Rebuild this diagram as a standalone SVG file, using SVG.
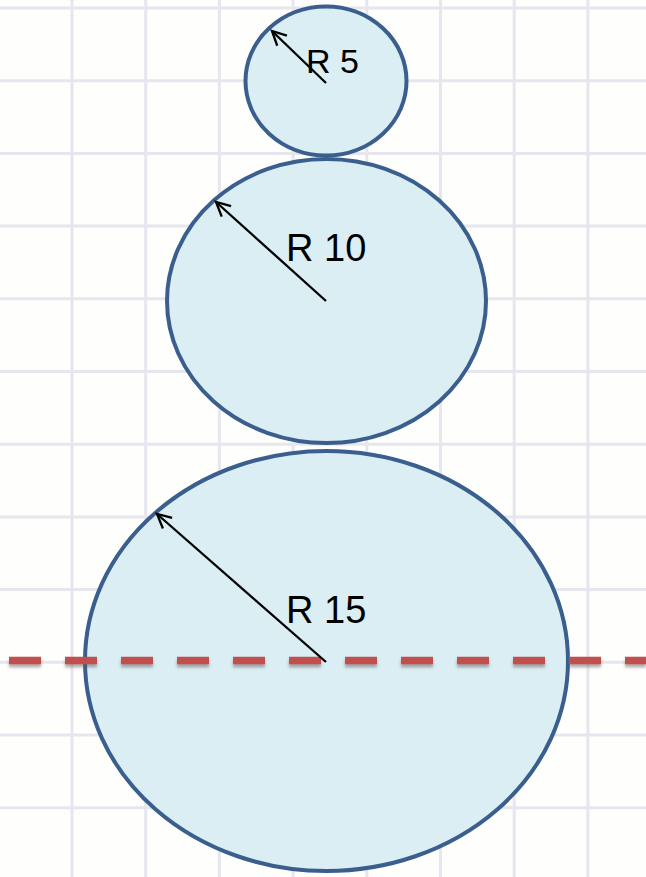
<svg xmlns="http://www.w3.org/2000/svg" width="646" height="877" viewBox="0 0 646 877">
  <defs>
    <style>
      .grid line { stroke: #e6e6ee; stroke-width: 3; }
      .ball { fill: #dbeef4; stroke: #3a5f8e; stroke-width: 4; }
      .radius { stroke: #000; stroke-width: 2.3; fill: none; marker-end: url(#open); }
      .lbl { font-family: "Liberation Sans", Arial, sans-serif; font-size: 38px; fill: #000; }
    </style>
    <marker id="open" viewBox="0 0 20 20" refX="17" refY="10" markerWidth="20" markerHeight="20" markerUnits="userSpaceOnUse" orient="auto">
      <path d="M3,3 L17,10 L3,17" fill="none" stroke="#000" stroke-width="2.3"/>
    </marker>
    <filter id="shadow" filterUnits="userSpaceOnUse" x="0" y="640" width="646" height="40">
      <feDropShadow dx="0" dy="3" stdDeviation="1.5" flood-color="#555" flood-opacity="0.5"/>
    </filter>
  </defs>
  <rect width="646" height="877" fill="#fefefd"/>
  <g class="grid">
    <line x1="0" y1="8" x2="646" y2="8"/>
    <line x1="0" y1="80.7" x2="646" y2="80.7"/>
    <line x1="0" y1="153.4" x2="646" y2="153.4"/>
    <line x1="0" y1="226.1" x2="646" y2="226.1"/>
    <line x1="0" y1="298.8" x2="646" y2="298.8"/>
    <line x1="0" y1="371.5" x2="646" y2="371.5"/>
    <line x1="0" y1="444.2" x2="646" y2="444.2"/>
    <line x1="0" y1="516.9" x2="646" y2="516.9"/>
    <line x1="0" y1="589.6" x2="646" y2="589.6"/>
    <line x1="0" y1="662.3" x2="646" y2="662.3"/>
    <line x1="0" y1="735" x2="646" y2="735"/>
    <line x1="0" y1="807.7" x2="646" y2="807.7"/>
    <line x1="72" y1="0" x2="72" y2="877"/>
    <line x1="145.7" y1="0" x2="145.7" y2="877"/>
    <line x1="219.4" y1="0" x2="219.4" y2="877"/>
    <line x1="293.1" y1="0" x2="293.1" y2="877"/>
    <line x1="366.8" y1="0" x2="366.8" y2="877"/>
    <line x1="440.5" y1="0" x2="440.5" y2="877"/>
    <line x1="514.2" y1="0" x2="514.2" y2="877"/>
    <line x1="587.9" y1="0" x2="587.9" y2="877"/>
  </g>
  <g id="ball-large">
    <ellipse class="ball" cx="326.5" cy="661" rx="241.5" ry="210"/>
  </g>
  <g id="ball-medium">
    <ellipse class="ball" cx="326.5" cy="301" rx="159.5" ry="142"/>
  </g>
  <g id="ball-small">
    <ellipse class="ball" cx="326" cy="81" rx="80.5" ry="74.5"/>
  </g>
  <g id="axis">
    <line x1="9" y1="660.5" x2="646" y2="660.5" stroke="#c0504d" stroke-width="7.5" stroke-dasharray="32 24" filter="url(#shadow)"/>
  </g>
  <g id="connectors">
    <line class="radius" x1="326" y1="83" x2="272" y2="31"/>
    <line class="radius" x1="326" y1="301" x2="216" y2="202"/>
    <line class="radius" x1="326" y1="662" x2="157" y2="514"/>
  </g>
  <g id="labels">
    <text class="lbl" x="306" y="73" style="font-size:34px">R 5</text>
    <text class="lbl" x="286" y="261">R 10</text>
    <text class="lbl" x="286" y="623">R 15</text>
  </g>
</svg>
